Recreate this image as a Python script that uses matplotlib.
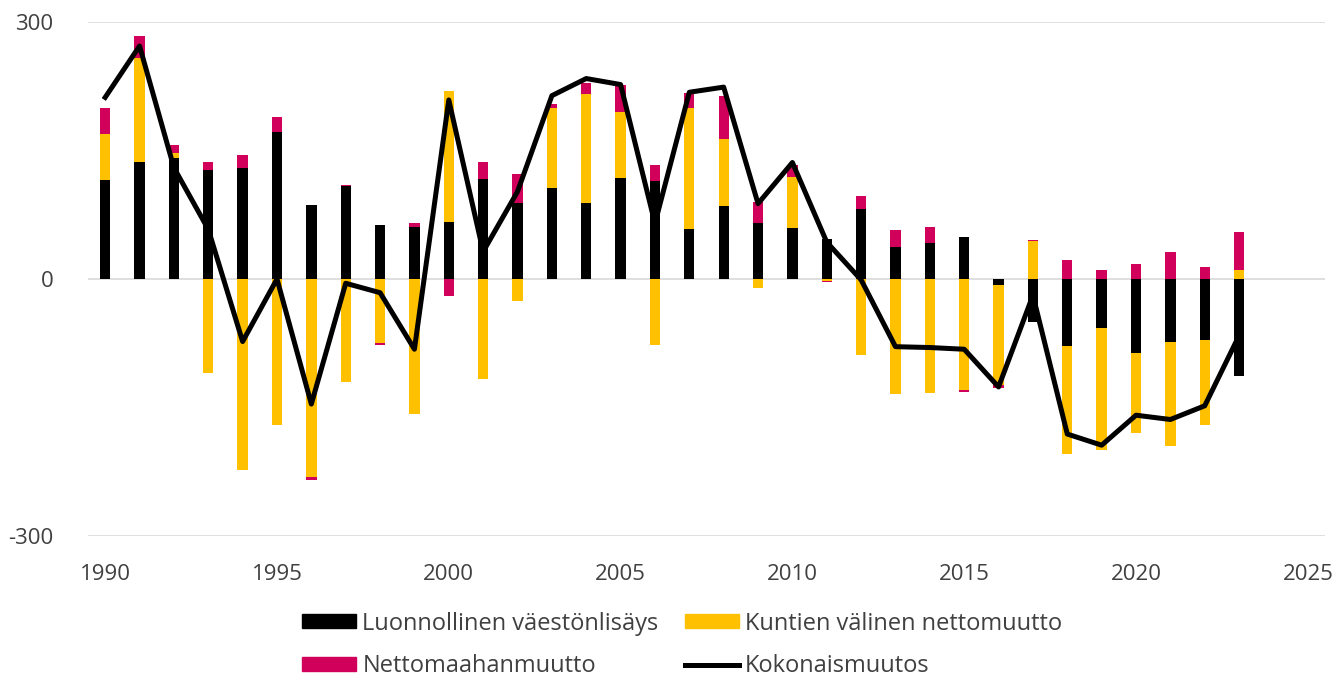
import numpy as np
import matplotlib
matplotlib.use("Agg")
import matplotlib.pyplot as plt
from matplotlib.patches import Patch
from matplotlib.lines import Line2D

# Data
years = list(range(1990, 2024))
natural = [116, 137, 141, 127, 129, 172, 86, 108, 63, 61,
           67, 117, 89, 106, 89, 118, 114, 58, 85, 65,
           60, 47, 82, 37, 42, 49, -7, -50, -78, -57,
           -86, -73, -71, -113]
internal = [53, 121, 6, -110, -223, -171, -231, -120, -75, -158,
            153, -117, -26, 94, 127, 77, -77, 142, 79, -10,
            59, -2, -89, -134, -133, -130, -117, 44, -126, -143,
            -94, -122, -100, 10]
immigration = [31, 26, 10, 9, 16, 17, -4, 2, -2, 4,
               -20, 19, 33, 4, 13, 31, 19, 17, 50, 25,
               14, -1, 15, 20, 19, -2, -3, 2, 22, 11,
               17, 32, 14, 45]
total = [212, 272, 130, 58, -73, 0, -146, -5, -16, -82,
         209, 32, 102, 214, 234, 227, 65, 218, 224, 88,
         136, 43, -1, -79, -80, -82, -126, -19, -181, -194,
         -159, -164, -148, -66]

labels = ["Luonnollinen väestönlisäys", "Kuntien välinen nettomuutto",
          "Nettomaahanmuutto", "Kokonaismuutos"]
colors = ["#000000", "#FFC000", "#D1005A"]

plt.rcParams['font.family'] = ['Open Sans', 'DejaVu Sans']
plt.rcParams['axes.unicode_minus'] = False
text_color = "#404040"

fig = plt.figure(figsize=(13.39, 6.82), dpi=100)
ax = fig.add_axes([88 / 1339, 1 - 536 / 682, (1325 - 88) / 1339, (536 - 22) / 682])

x = np.array(years)
pos_base = np.zeros(len(years))
neg_base = np.zeros(len(years))
for series, col in zip([natural, internal, immigration], colors):
    v = np.array(series, dtype=float)
    base = np.where(v >= 0, pos_base, neg_base)
    ax.bar(x, v, bottom=base, width=0.3, color=col, zorder=2)
    pos_base += np.where(v >= 0, v, 0)
    neg_base += np.where(v < 0, v, 0)

ax.plot(x, total, color="black", linewidth=3.6, zorder=3)

ax.set_xlim(1989.5, 2025.5)
ax.set_ylim(-300, 300)
ax.set_xticks(range(1990, 2026, 5))
ax.set_yticks([-300, 0, 300])
ax.yaxis.grid(True, color="#d9d9d9", linewidth=1.2, zorder=0)
ax.set_axisbelow(True)
for s in ax.spines.values():
    s.set_visible(False)
ax.tick_params(axis="both", length=0, labelsize=16, labelcolor=text_color)
ax.tick_params(axis="y", pad=25)
ax.tick_params(axis="x", pad=20)

handles = [Patch(color=colors[0]), Patch(color=colors[2]),
           Patch(color=colors[1]), Line2D([], [], color="black", linewidth=3.6)]
order_labels = [labels[0], labels[2], labels[1], labels[3]]
fig.legend(handles, order_labels, loc="center", bbox_to_anchor=(682 / 1339, 1 - 645 / 682),
           ncol=2, frameon=False, fontsize=17, labelcolor=text_color,
           handlelength=2.3, handleheight=0.5, handletextpad=0.25,
           columnspacing=1.1, labelspacing=0.8)

fig.savefig("out.png", dpi=100)
